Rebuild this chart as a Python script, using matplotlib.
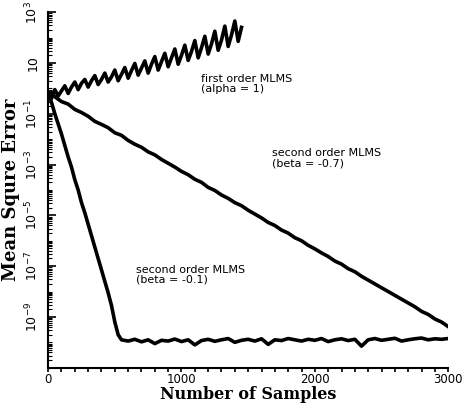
import numpy as np
import matplotlib.pyplot as plt
from matplotlib.ticker import FixedLocator, LogLocator, MultipleLocator, NullFormatter

# ---- data (log10 of mean square error) ----
n1 = np.arange(0, 1451, 25)
alpha1_log = [-0.2, -0.4, -0.05, -0.3, -0.1, 0.1, -0.2, 0.05, 0.25, -0.05,
              0.2, 0.35, 0.05, 0.3, 0.5, 0.15, 0.35, 0.6, 0.25, 0.45,
              0.72, 0.3, 0.55, 0.82, 0.4, 0.7, 0.98, 0.52, 0.8, 1.08,
              0.6, 0.95, 1.25, 0.72, 1.05, 1.38, 0.85, 1.2, 1.55, 0.95,
              1.3, 1.7, 1.1, 1.45, 1.88, 1.2, 1.6, 2.05, 1.35, 1.75,
              2.25, 1.5, 1.9, 2.45, 1.65, 2.1, 2.65, 1.85, 2.4]

n2 = np.arange(0, 3001, 50)
beta07_log = [-0.2, -0.33, -0.52, -0.62, -0.83, -0.95, -1.1, -1.3, -1.42, -1.55,
              -1.75, -1.85, -2.05, -2.2, -2.32, -2.5, -2.62, -2.8, -2.95, -3.1,
              -3.27, -3.4, -3.58, -3.7, -3.9, -4.02, -4.2, -4.33, -4.5, -4.62,
              -4.8, -4.95, -5.1, -5.28, -5.4, -5.58, -5.7, -5.88, -6.0, -6.18,
              -6.32, -6.48, -6.62, -6.8, -6.92, -7.1, -7.22, -7.4, -7.55, -7.7,
              -7.85, -8.0, -8.15, -8.3, -8.45, -8.6, -8.78, -8.9, -9.08, -9.2, -9.38]

n3 = [0, 25, 50, 75, 100, 125, 150, 175, 200, 225, 250, 275, 300, 325, 350,
      375, 400, 425, 450, 475, 500, 525, 550, 600, 650, 700, 750, 800, 850,
      900, 950, 1000, 1050, 1100, 1150, 1200, 1250, 1300, 1350, 1400, 1450,
      1500, 1550, 1600, 1650, 1700, 1750, 1800, 1850, 1900, 1950, 2000, 2050,
      2100, 2150, 2200, 2250, 2300, 2350, 2400, 2450, 2500, 2550, 2600, 2650,
      2700, 2750, 2800, 2850, 2900, 2950, 3000]
beta01_log = [-0.2, -0.55, -1.0, -1.4, -1.8, -2.25, -2.7, -3.1, -3.6, -4.0,
              -4.5, -4.9, -5.35, -5.8, -6.25, -6.7, -7.15, -7.6, -8.05, -8.55,
              -9.2, -9.7, -9.9, -9.95, -9.88, -9.98, -9.9, -10.05, -9.92, -9.95,
              -9.87, -9.97, -9.9, -10.1, -9.93, -9.88, -9.96, -9.9, -9.85, -10.0,
              -9.92, -9.88, -9.95, -9.86, -10.08, -9.9, -9.93, -9.85, -9.9, -9.95,
              -9.88, -9.92, -9.85, -9.97, -9.9, -9.86, -9.93, -9.88, -10.15, -9.9,
              -9.85, -9.92, -9.88, -9.84, -9.95, -9.9, -9.86, -9.83, -9.9, -9.86,
              -9.88, -9.85]

ytick_exp = [3, 1, -1, -3, -5, -7, -9]
xticks = [0, 1000, 2000, 3000]

# ---- figure ----
fig = plt.figure(figsize=(4.63, 4.05), dpi=100)
ax = fig.add_axes([0.104, 0.092, 0.864, 0.878])

for n, v in [(n1, alpha1_log), (n2, beta07_log), (n3, beta01_log)]:
    ax.plot(n, np.power(10.0, v), color='black', linewidth=2.6)

ax.set_yscale('log')
ax.set_xlim(0, 3000)
ax.set_ylim(1e-11, 1e3)

ax.spines['top'].set_visible(False)
ax.spines['right'].set_visible(False)
ax.spines['left'].set_linewidth(1.5)
ax.spines['bottom'].set_linewidth(1.5)

ax.set_xticks(xticks)
ax.set_xticklabels([str(t) for t in xticks], fontsize=8.5)
ax.xaxis.set_minor_locator(MultipleLocator(100))
ax.tick_params(axis='x', which='both', direction='out', length=3, width=1.2, pad=1)

ax.yaxis.set_major_locator(FixedLocator([10.0 ** e for e in ytick_exp]))
ax.set_yticklabels(['$10^{%d}$' % e if e != 1 else '10' for e in ytick_exp],
                   fontsize=9, rotation=90, va='center')
ax.yaxis.set_minor_locator(LogLocator(base=10, subs=np.arange(1, 10), numticks=50))
ax.yaxis.set_minor_formatter(NullFormatter())
ax.tick_params(axis='y', which='major', direction='in', length=6, width=1.2, pad=6)
ax.tick_params(axis='y', which='minor', direction='in', length=3, width=0.8)

ax.set_xlabel('Number of Samples', family='DejaVu Serif', fontsize=11.5,
              fontweight='bold', labelpad=0)
ax.set_ylabel('Mean Squre Error', family='DejaVu Serif', fontsize=13,
              fontweight='bold', labelpad=2)

ax.text(1150, 10 ** 0.55, 'first order MLMS\n(alpha = 1)', fontsize=8,
        va='top', linespacing=1.0)
ax.text(1680, 10 ** -2.35, 'second order MLMS\n(beta = -0.7)', fontsize=8,
        va='top', linespacing=1.0)
ax.text(660, 10 ** -6.95, 'second order MLMS\n(beta = -0.1)', fontsize=8,
        va='top', linespacing=1.0)

fig.savefig('out.png', dpi=100)
